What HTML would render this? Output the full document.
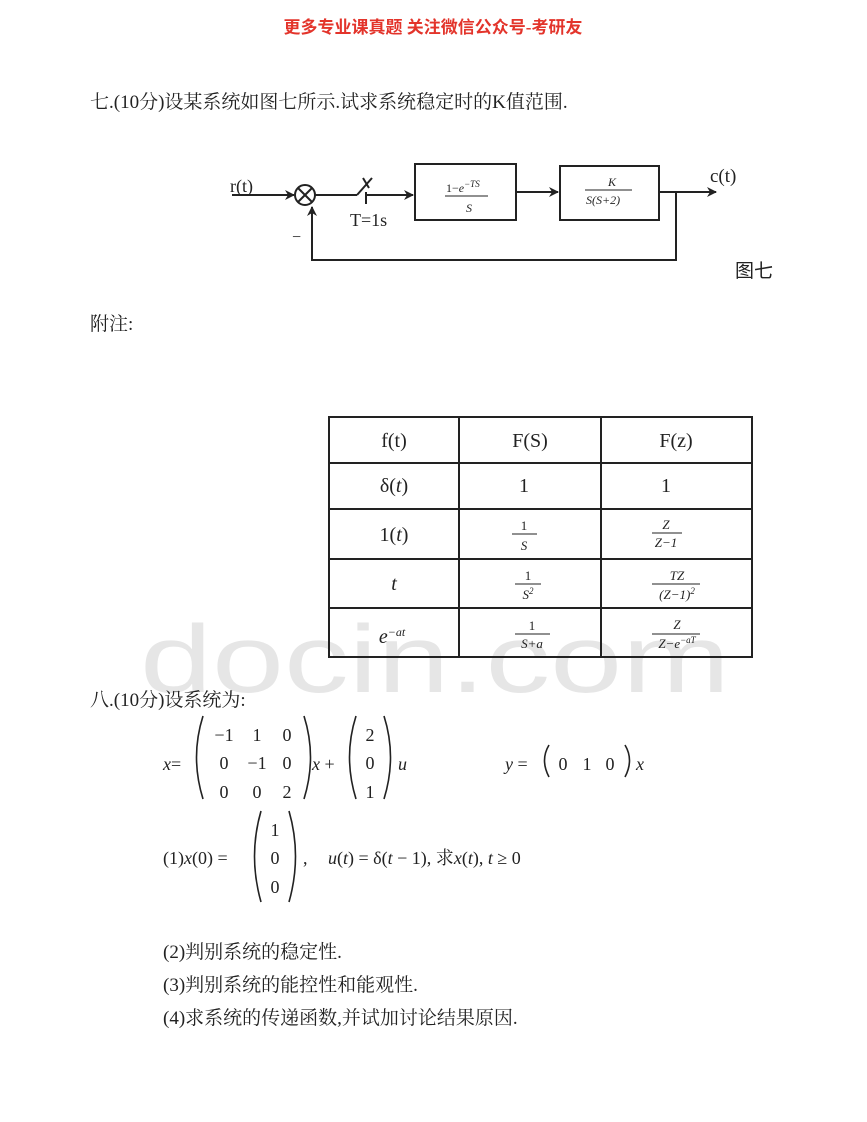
<!DOCTYPE html>
<html><head><meta charset="utf-8"><style>
html,body{margin:0;padding:0;background:#fff}
svg{display:block}
text{font-family:"Liberation Serif","Noto Serif CJK SC",serif;fill:#222}
.cj{font-family:"Liberation Serif","Noto Sans CJK SC",sans-serif}
.i{font-style:italic}
</style></head><body>
<svg width="867" height="1122" viewBox="0 0 867 1122" xmlns="http://www.w3.org/2000/svg">
<defs><marker id="a" markerWidth="10" markerHeight="10" refX="9" refY="5" orient="auto" markerUnits="userSpaceOnUse"><path d="M0,0 L10,5 L0,10 L3,5z" fill="#222"/></marker></defs>
<text x="433" y="33" text-anchor="middle" class="cj" style="fill:#e3342b;font-weight:bold;font-size:17px">更多专业课真题 关注微信公众号-考研友</text>
<text x="140" y="692" textLength="590" lengthAdjust="spacingAndGlyphs" style="fill:#e6e6e6;font-family:'Liberation Sans',sans-serif;font-size:96px">docin.com</text>
<text x="90" y="108" font-size="19">七.(10分)设某系统如图七所示.试求系统稳定时的K值范围.</text>
<g stroke="#222" stroke-width="2" fill="none">
<line x1="232" y1="195" x2="294" y2="195" marker-end="url(#a)"/>
<circle cx="305" cy="195" r="10"/>
<line x1="298" y1="188" x2="312" y2="202"/><line x1="312" y1="188" x2="298" y2="202"/>
<line x1="315" y1="195" x2="357" y2="195"/>
<line x1="357" y1="195" x2="372" y2="178"/>
<line x1="363" y1="178" x2="369" y2="188"/>
<line x1="366" y1="192" x2="366" y2="204"/>
<line x1="366" y1="195" x2="413" y2="195" marker-end="url(#a)"/>
<rect x="415" y="164" width="101" height="56"/>
<line x1="516" y1="192" x2="558" y2="192" marker-end="url(#a)"/>
<rect x="560" y="166" width="99" height="54"/>
<line x1="659" y1="192" x2="716" y2="192" marker-end="url(#a)"/>
<polyline points="676,192 676,260 312,260 312,207" marker-end="url(#a)"/>
</g>
<line x1="445" y1="196" x2="488" y2="196" stroke="#222"/>
<line x1="585" y1="190" x2="632" y2="190" stroke="#222"/>
<text x="230" y="192" font-size="18">r(t)</text>
<text x="710" y="182" font-size="19">c(t)</text>
<text x="350" y="226" font-size="18">T=1s</text>
<text x="292" y="242" font-size="16">−</text>
<text x="446" y="192" font-size="12">1−<tspan class="i">e</tspan><tspan dy="-5" font-size="9" class="i">−TS</tspan></text>
<text x="466" y="212" font-size="12" class="i">S</text>
<text x="608" y="186" font-size="12" class="i">K</text>
<text x="586" y="204" font-size="12" class="i">S(S+2)</text>
<text x="735" y="277" font-size="19" class="cj">图七</text>
<text x="90" y="330" font-size="19">附注:</text>
<g stroke="#222" stroke-width="2">
<rect x="329" y="417" width="423" height="240" fill="none"/>
<line x1="459" y1="417" x2="459" y2="657"/><line x1="601" y1="417" x2="601" y2="657"/>
<line x1="329" y1="463" x2="752" y2="463"/><line x1="329" y1="509" x2="752" y2="509"/>
<line x1="329" y1="559" x2="752" y2="559"/><line x1="329" y1="608" x2="752" y2="608"/>
</g>
<g font-size="20" text-anchor="middle">
<text x="394" y="447">f(t)</text><text x="530" y="447">F(S)</text><text x="676" y="447">F(z)</text>
<text x="394" y="492">δ(<tspan class="i">t</tspan>)</text><text x="524" y="492">1</text><text x="666" y="492">1</text>
<text x="394" y="541">1(<tspan class="i">t</tspan>)</text>
<text x="394" y="590" class="i">t</text>
<text x="392" y="643" class="i">e<tspan dy="-7" font-size="12">−at</tspan></text>
</g>
<g font-size="13" text-anchor="middle" stroke="none">
<text x="524" y="530">1</text><text x="524" y="550" class="i">S</text>
<text x="666" y="529" class="i">Z</text><text x="666" y="547" class="i">Z−1</text>
<text x="528" y="580">1</text><text x="528" y="599" class="i">S<tspan dy="-5" font-size="9">2</tspan></text>
<text x="677" y="580" class="i">TZ</text><text x="677" y="599" class="i">(Z−1)<tspan dy="-5" font-size="9">2</tspan></text>
<text x="532" y="630">1</text><text x="532" y="648" class="i">S+a</text>
<text x="677" y="629" class="i">Z</text><text x="677" y="648" class="i">Z−e<tspan dy="-5" font-size="9">−aT</tspan></text>
</g>
<g stroke="#222" stroke-width="1">
<line x1="512" y1="534" x2="537" y2="534"/><line x1="652" y1="533" x2="682" y2="533"/>
<line x1="515" y1="584" x2="541" y2="584"/><line x1="652" y1="584" x2="700" y2="584"/>
<line x1="515" y1="634" x2="550" y2="634"/><line x1="652" y1="634" x2="700" y2="634"/>
</g>
<text x="90" y="706" font-size="19">八.(10分)设系统为:</text>
<g stroke="#222" stroke-width="1.6" fill="none">
<path d="M203,716 Q190,757 203,799"/><path d="M304,716 Q317,757 304,799"/>
<path d="M356,716 Q343,757 356,799"/><path d="M384,716 Q397,757 384,799"/>
<path d="M549,745 Q540,760 549,777"/><path d="M625,745 Q634,760 625,777"/>
<path d="M261,811 Q248,856 261,902"/><path d="M289,811 Q302,856 289,902"/>
</g>
<g font-size="18" text-anchor="middle">
<text x="224" y="741">−1</text><text x="257" y="741">1</text><text x="287" y="741">0</text>
<text x="224" y="769">0</text><text x="257" y="769">−1</text><text x="287" y="769">0</text>
<text x="224" y="798">0</text><text x="257" y="798">0</text><text x="287" y="798">2</text>
<text x="370" y="741">2</text><text x="370" y="769">0</text><text x="370" y="798">1</text>
<text x="275" y="836">1</text><text x="275" y="864">0</text><text x="275" y="893">0</text>
<text x="563" y="770">0</text><text x="587" y="770">1</text><text x="610" y="770">0</text>
</g>
<text x="163" y="770" font-size="18"><tspan class="i">x</tspan>=</text>
<text x="312" y="770" font-size="18"><tspan class="i">x</tspan> +</text>
<text x="398" y="770" font-size="18" class="i">u</text>
<text x="505" y="770" font-size="18"><tspan class="i">y</tspan> =</text>
<text x="636" y="770" font-size="18" class="i">x</text>
<text x="163" y="864" font-size="18">(1)<tspan class="i">x</tspan>(0) =</text>
<text x="303" y="864" font-size="18">,</text>
<text x="328" y="864" font-size="18"><tspan class="i">u</tspan>(<tspan class="i">t</tspan>) = δ(<tspan class="i">t</tspan> − 1), 求<tspan class="i">x</tspan>(<tspan class="i">t</tspan>), <tspan class="i">t</tspan> ≥ 0</text>
<text x="163" y="958" font-size="19">(2)判别系统的稳定性.</text>
<text x="163" y="991" font-size="19">(3)判别系统的能控性和能观性.</text>
<text x="163" y="1024" font-size="19">(4)求系统的传递函数,并试加讨论结果原因.</text>
</svg>
</body></html>
